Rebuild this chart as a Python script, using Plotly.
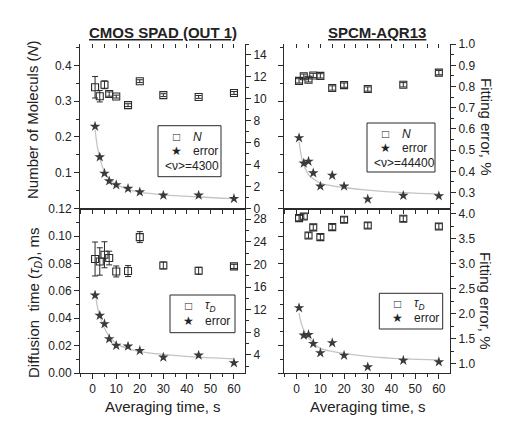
import plotly.graph_objects as go

# ---------------- data ----------------
t = [1, 3, 5, 7, 10, 15, 20, 30, 45, 60]
fit_t = [1, 2, 3, 5, 7, 10, 15, 20, 30, 45, 60]

# CMOS SPAD (OUT 1)
cmos_N = [0.339, 0.314, 0.346, 0.320, 0.313, 0.289, 0.356, 0.317, 0.312, 0.323]
cmos_N_sd = [0.030, 0.016, 0.011, 0.006, 0.004, 0.004, 0.004, 0.004, 0.004, 0.004]
cmos_N_fiterr = [7.48, 4.69, 3.2, 2.5, 2.15, 1.82, 1.5, 1.2, 1.2, 0.9]
cmos_N_fit = [7.2, 5.6, 4.6, 3.35, 2.7, 2.2, 1.75, 1.5, 1.25, 1.05, 0.9]

cmos_tau = [0.0833, 0.0815, 0.0864, 0.0840, 0.0742, 0.0745, 0.0993, 0.0786, 0.0747, 0.0779]
cmos_tau_sd = [0.0124, 0.0100, 0.0095, 0.0050, 0.0040, 0.0040, 0.0040, 0.0025, 0.0025, 0.0015]
cmos_tau_fiterr = [14.55, 10.96, 9.49, 6.83, 5.65, 5.52, 4.76, 3.58, 3.93, 2.58]
cmos_tau_fit = [15.4, 12.5, 10.9, 8.7, 7.3, 6.0, 5.1, 4.6, 4.1, 3.6, 3.3]

# SPCM-AQR13
spcm_N = [0.357, 0.370, 0.360, 0.372, 0.371, 0.337, 0.345, 0.334, 0.346, 0.380]
spcm_N_sd = [0.006, 0.006, 0.006, 0.006, 0.006, 0.006, 0.006, 0.006, 0.006, 0.006]
spcm_N_fiterr = [0.558, 0.438, 0.447, 0.392, 0.330, 0.381, 0.330, 0.269, 0.286, 0.284]
spcm_N_fit = [0.54, 0.47, 0.43, 0.385, 0.365, 0.345, 0.332, 0.324, 0.312, 0.300, 0.294]

spcm_tau = [0.1132, 0.1144, 0.1005, 0.1064, 0.0993, 0.1066, 0.1120, 0.1078, 0.1127, 0.1071]
spcm_tau_sd = [0.002, 0.002, 0.002, 0.002, 0.002, 0.002, 0.002, 0.002, 0.002, 0.002]
spcm_tau_fiterr = [2.118, 1.571, 1.585, 1.405, 1.22, 1.42, 1.17, 0.94, 1.07, 1.04]
spcm_tau_fit = [2.02, 1.8, 1.68, 1.52, 1.42, 1.31, 1.25, 1.21, 1.15, 1.10, 1.08]

x_ticks = [0, 10, 20, 30, 40, 50, 60]

# ---------------- style ----------------
BODY = 8                      # default page margin around the plot div
W, H = 510 - BODY, 426 - BODY
ML, MR, MT, MB = 80 - BODY, 60, 44 - BODY, 53
PW = W - ML - MR
PH = H - MT - MB
DARK = '#2b2b2b'
TXT = '#222222'
FITC = '#c4c4c4'
FONT = 'Arial, Liberation Sans, sans-serif'


def px(x):  # page pixel -> paper
    return (x - BODY - ML) / PW


def py(y):
    return (H - MB - (y - BODY)) / PH


fig = go.Figure()


def add_panel(xa, ya_l, ya_r, vals, sd, ferr, ffit):
    fig.add_trace(go.Scatter(x=fit_t, y=ffit, mode='lines', line=dict(color=FITC, width=1.3, shape='spline'),
                             xaxis=xa, yaxis=ya_r, showlegend=False, hoverinfo='skip'))
    fig.add_trace(go.Scatter(x=t, y=ferr, mode='markers',
                             marker=dict(symbol='star', size=8, color='#3a3a3a', line=dict(width=0)),
                             xaxis=xa, yaxis=ya_r, showlegend=False))
    fig.add_trace(go.Scatter(x=t, y=vals, mode='markers',
                             marker=dict(symbol='square-open', size=7, color=DARK, line=dict(width=1.1, color=DARK)),
                             error_y=dict(type='data', array=sd, visible=True, color=DARK, thickness=1, width=3),
                             xaxis=xa, yaxis=ya_l, showlegend=False))


add_panel('x', 'y', 'y2', cmos_N, cmos_N_sd, cmos_N_fiterr, cmos_N_fit)
add_panel('x2', 'y3', 'y4', spcm_N, spcm_N_sd, spcm_N_fiterr, spcm_N_fit)
add_panel('x3', 'y5', 'y6', cmos_tau, cmos_tau_sd, cmos_tau_fiterr, cmos_tau_fit)
add_panel('x4', 'y7', 'y8', spcm_tau, spcm_tau_sd, spcm_tau_fiterr, spcm_tau_fit)
# empty traces to bind the top-edge overlay axes
fig.add_trace(go.Scatter(x=[], y=[], xaxis='x5', yaxis='y', showlegend=False))
fig.add_trace(go.Scatter(x=[], y=[], xaxis='x6', yaxis='y3', showlegend=False))

XR = [-5.4, 64.7]
LEFT_DOM = [0, 0.446]
RIGHT_DOM = [0.551, 1]
TOP_DOM = [0.5, 1]
BOT_DOM = [0, 0.5]

common = dict(showgrid=False, zeroline=False, showline=True, linecolor=DARK, linewidth=1,
              tickcolor=DARK, tickwidth=1, tickfont=dict(family=FONT, size=12, color=TXT))

xa_top = dict(common, range=XR, side='bottom', ticks='outside', ticklen=4, tick0=0, dtick=5,
              showticklabels=False)
xa_topedge = dict(common, range=XR, side='top', ticks='inside', ticklen=4, tick0=0, dtick=5,
                  showticklabels=False, showline=False)
xa_bot = dict(common, range=XR, side='bottom', ticks='outside', ticklen=5, tickvals=x_ticks,
              minor=dict(dtick=5, tick0=0, ticks='outside', ticklen=3, tickcolor=DARK), mirror=True)


def ya(rng, dtick, mdtick, labels=True, fmt=None, tickvals=None, side='left', **kw):
    d = dict(common, range=rng, ticks='outside', ticklen=5, dtick=dtick, tick0=0,
             minor=dict(dtick=mdtick, tick0=0, ticks='outside', ticklen=3, tickcolor=DARK),
             showticklabels=labels, side=side)
    if fmt:
        d['tickformat'] = fmt
    if tickvals is not None:
        d['tickvals'] = tickvals
    d.update(kw)
    return d


fig.update_layout(
    width=W, height=H,
    margin=dict(l=ML, r=MR, t=MT, b=MB),
    paper_bgcolor='white', plot_bgcolor='white',
    font=dict(family=FONT, color=TXT),
    showlegend=False,
    xaxis=dict(xa_top, domain=LEFT_DOM, anchor='y'),
    xaxis2=dict(xa_top, domain=RIGHT_DOM, anchor='y3'),
    xaxis3=dict(xa_bot, domain=LEFT_DOM, anchor='y5'),
    xaxis4=dict(xa_bot, domain=RIGHT_DOM, anchor='y7'),
    xaxis5=dict(xa_topedge, overlaying='x', anchor='y'),
    xaxis6=dict(xa_topedge, overlaying='x2', anchor='y3'),
    yaxis=ya([0, 0.46], 0.1, 0.05, tickvals=[0.1, 0.2, 0.3, 0.4], domain=TOP_DOM, anchor='x'),
    yaxis2=ya([0, 15], 2, 1, side='right', overlaying='y', anchor='x'),
    yaxis3=ya([0, 0.46], 0.1, 0.05, labels=False, domain=TOP_DOM, anchor='x2'),
    yaxis4=ya([0.225, 1.0005], 0.1, 0.05, fmt='.1f', tickvals=[0.3, 0.4, 0.5, 0.6, 0.7, 0.8, 0.9, 1.0],
              side='right', overlaying='y3', anchor='x2'),
    yaxis5=ya([0, 0.1202], 0.02, 0.01, fmt='.2f', domain=BOT_DOM, anchor='x3'),
    yaxis6=ya([0.8, 29.9], 4, 2, tickvals=[4, 8, 12, 16, 20, 24, 28], side='right', overlaying='y5', anchor='x3'),
    yaxis7=ya([0, 0.1202], 0.02, 0.01, labels=False, domain=BOT_DOM, anchor='x4'),
    yaxis8=ya([0.82, 4.1], 0.5, 0.25, fmt='.1f', tickvals=[1.0, 1.5, 2.0, 2.5, 3.0, 3.5, 4.0],
              side='right', overlaying='y7', anchor='x4'),
)

ann = []


def text(x, y, s, size=15, angle=0, xanchor='center', bold=False):
    ann.append(dict(x=px(x), y=py(y), xref='paper', yref='paper', text=s, showarrow=False,
                    textangle=angle, xanchor=xanchor, yanchor='middle',
                    font=dict(family=FONT, size=size, color=TXT)))


# panel titles
text(162.5, 32, '<b><u>CMOS SPAD (OUT 1)</u></b>', size=15)
text(377, 32, '<b><u>SPCM-AQR13</u></b>', size=15)
# axis titles
text(32, 120, 'Number of Moleculs (<i>N</i>)', size=15, angle=-90)
text(34, 303, 'Diffusion  time (<i>τ</i><sub><i>D</i></sub>), ms', size=15, angle=-90)
text(486, 127, 'Fitting error, %', size=15, angle=90)
text(486, 301, 'Fitting error, %', size=15, angle=90)
text(163, 406, 'Averaging time, s', size=15)
text(368, 406, 'Averaging time, s', size=15)

shapes = []


def legend_box(x0, y0, x1, y1, rows, third=None):
    shapes.append(dict(type='rect', xref='paper', yref='paper', x0=px(x0), x1=px(x1), y0=py(y1), y1=py(y0),
                       line=dict(color=DARK, width=1), fillcolor='white', layer='above'))
    for sym, lab, yy in rows:
        text(x0 + 18, yy, sym, size=12)
        text(x0 + 33, yy, lab, size=12, xanchor='left')
    if third:
        lab, yy = third
        text(x0 + 5, yy, lab, size=12, xanchor='left')


legend_box(158, 125.7, 221, 176.7, [('□', '<i>N</i>', 136.7), ('★', 'error', 150.7)], ('&lt;ν&gt;=4300', 165.5))
legend_box(367, 123, 435, 172, [('□', '<i>N</i>', 134), ('★', 'error', 148.3)], ('&lt;ν&gt;=44400', 162.7))
legend_box(170, 295, 235, 332.7, [('□', '<i>τ</i><sub><i>D</i></sub>', 306), ('★', 'error', 320.7)])
legend_box(379.3, 293.3, 442.7, 329, [('□', '<i>τ</i><sub><i>D</i></sub>', 304), ('★', 'error', 318.3)])

fig.update_layout(annotations=ann, shapes=shapes)

fig.write_html('out.html')
